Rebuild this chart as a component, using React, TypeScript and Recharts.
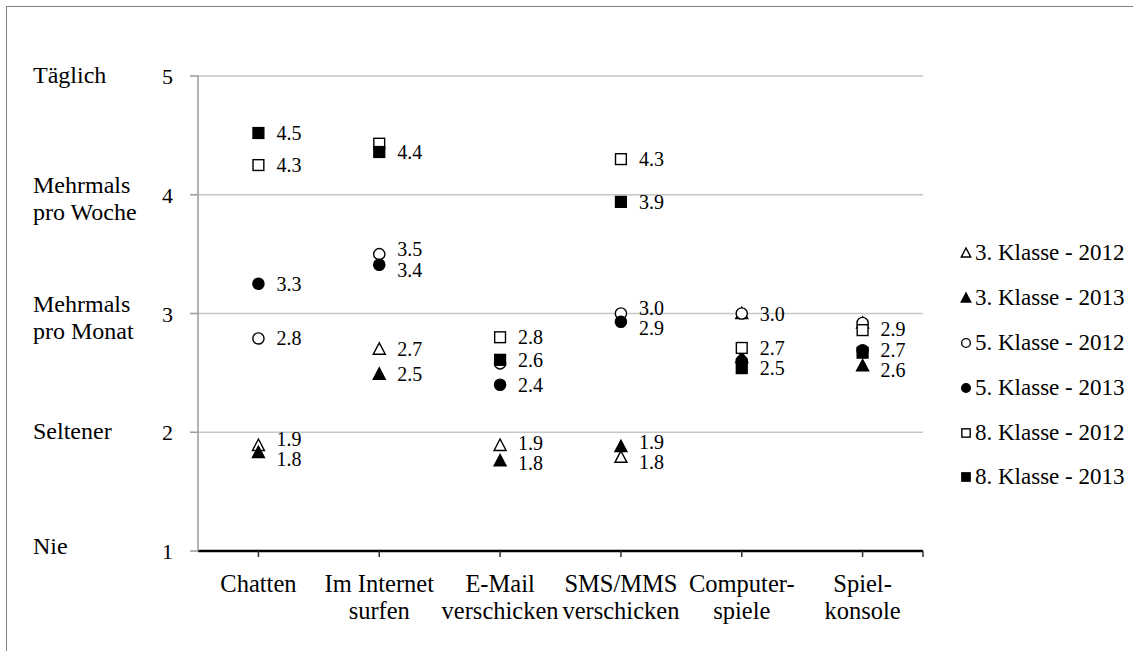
import React from "react";
import { ComposedChart, Scatter, XAxis, YAxis, CartesianGrid, Legend } from "recharts";

const categories = [
  "Chatten",
  "Im Internet\nsurfen",
  "E-Mail\nverschicken",
  "SMS/MMS\nverschicken",
  "Computer-\nspiele",
  "Spiel-\nkonsole",
];
const levelLabels = ["Nie", "Seltener", "Mehrmals\npro Monat", "Mehrmals\npro Woche", "Täglich"];
const yTicks = [1, 2, 3, 4, 5];

const klasse3_2012 = [1.89, 2.7, 1.89, 1.79, 3.0, 2.92];
const klasse3_2013 = [1.83, 2.49, 1.76, 1.88, 2.63, 2.56];
const klasse5_2012 = [2.79, 3.5, 2.58, 3.0, 3.0, 2.92];
const klasse5_2013 = [3.25, 3.41, 2.4, 2.93, 2.6, 2.69];
const klasse8_2012 = [4.25, 4.43, 2.8, 4.3, 2.71, 2.86];
const klasse8_2013 = [4.52, 4.36, 2.61, 3.94, 2.54, 2.67];

const show3_2012 = [true, true, true, true, false, false];
const show3_2013 = [true, true, true, true, false, true];
const show5_2012 = [true, true, false, true, true, false];
const show5_2013 = [true, true, true, true, false, false];
const show8_2012 = [true, false, true, true, true, true];
const show8_2013 = [true, true, true, true, true, true];

type Shape = "triangle" | "circle" | "square";
const seriesDefs: { key: string; name: string; values: number[]; show: boolean[]; shape: Shape; filled: boolean }[] = [
  { key: "k3_12", name: "3. Klasse - 2012", values: klasse3_2012, show: show3_2012, shape: "triangle", filled: false },
  { key: "k3_13", name: "3. Klasse - 2013", values: klasse3_2013, show: show3_2013, shape: "triangle", filled: true },
  { key: "k5_12", name: "5. Klasse - 2012", values: klasse5_2012, show: show5_2012, shape: "circle", filled: false },
  { key: "k5_13", name: "5. Klasse - 2013", values: klasse5_2013, show: show5_2013, shape: "circle", filled: true },
  { key: "k8_12", name: "8. Klasse - 2012", values: klasse8_2012, show: show8_2012, shape: "square", filled: false },
  { key: "k8_13", name: "8. Klasse - 2013", values: klasse8_2013, show: show8_2013, shape: "square", filled: true },
];

const FONT = "'Liberation Serif', 'Times New Roman', serif";
const MIN_GAP = 0.17;

function spread(vals: number[]): number[] {
  type C = { idx: number[]; sum: number; top: number };
  let cs: C[] = vals.map((v, i) => ({ idx: [i], sum: v, top: v }));
  let changed = true;
  while (changed) {
    changed = false;
    for (let i = 0; i < cs.length - 1; i++) {
      const a = cs[i];
      const b = cs[i + 1];
      const aBottom = a.top - (a.idx.length - 1) * MIN_GAP;
      if (aBottom - b.top < MIN_GAP - 1e-9) {
        const idx = [...a.idx, ...b.idx];
        const sum = a.sum + b.sum;
        const n = idx.length;
        const mean = sum / n;
        cs.splice(i, 2, { idx, sum, top: mean + ((n - 1) * MIN_GAP) / 2 });
        changed = true;
        break;
      }
    }
  }
  const out: number[] = new Array(vals.length);
  cs.forEach((c) => c.idx.forEach((id, j) => (out[id] = c.top - j * MIN_GAP)));
  return out;
}

const rows = categories.map((c, i) => {
  const row: any = { x: i + 1 };
  seriesDefs.forEach((s) => {
    row[s.key] = s.values[i];
  });
  const vis = seriesDefs
    .filter((s) => s.show[i])
    .map((s) => ({ key: s.key, v: s.values[i] }))
    .sort((a, b) => b.v - a.v);
  const pos = spread(vis.map((d) => d.v));
  vis.forEach((d, j) => {
    row["lbl_" + d.key] = pos[j];
    row["txt_" + d.key] = d.v.toFixed(1);
  });
  return row;
});

function Marker({ shape, filled, cx, cy, size }: { shape: Shape; filled: boolean; cx: number; cy: number; size: number }) {
  const fill = filled ? "#000" : "#fff";
  const sw = 1.4;
  if (shape === "triangle") {
    const h = size * 0.95;
    const pts = `${cx},${cy - h * 0.55} ${cx - size / 2},${cy + h * 0.45} ${cx + size / 2},${cy + h * 0.45}`;
    return <polygon points={pts} fill={fill} stroke="#000" strokeWidth={sw} strokeLinejoin="miter" />;
  }
  if (shape === "circle") {
    return <circle cx={cx} cy={cy} r={size / 2 - 0.4} fill={fill} stroke="#000" strokeWidth={sw} />;
  }
  const s = size - 1.2;
  return <rect x={cx - s / 2} y={cy - s / 2} width={s} height={s} fill={fill} stroke="#000" strokeWidth={sw} />;
}

const YTick = (props: any) => {
  const { x, y, payload } = props;
  const v = payload.value as number;
  const lines = levelLabels[v - 1].split("\n");
  return (
    <g>
      <text x={x} y={y} dy={8} textAnchor="end" fontFamily={FONT} fontSize={22} fill="#000">
        {v}
      </text>
      {lines.length === 1 ? (
        <text x={33} y={y} dy={v === 1 ? 3 : 7} textAnchor="start" fontFamily={FONT} fontSize={24} fill="#000">
          {lines[0]}
        </text>
      ) : (
        <text x={33} y={y} textAnchor="start" fontFamily={FONT} fontSize={24} fill="#000">
          <tspan x={33} dy={-2}>{lines[0]}</tspan>
          <tspan x={33} dy={27}>{lines[1]}</tspan>
        </text>
      )}
    </g>
  );
};

const XTick = (props: any) => {
  const { x, payload } = props;
  const v = payload.value as number;
  if (!Number.isInteger(v) || v < 1 || v > categories.length) return <g />;
  const lines = categories[v - 1].split("\n");
  return (
    <text x={x} y={551} textAnchor="middle" fontFamily={FONT} fontSize={24.5} fill="#000">
      {lines.map((l, i) => (
        <tspan key={i} x={x} dy={i === 0 ? 41 : 27}>
          {l}
        </tspan>
      ))}
    </text>
  );
};

const LegendContent = () => (
  <div style={{ fontFamily: FONT, fontSize: 23, color: "#000" }}>
    {seriesDefs.map((s) => (
      <div key={s.key} style={{ height: 44.8, display: "flex", alignItems: "center", whiteSpace: "nowrap" }}>
        <svg width={14} height={14} style={{ flex: "none" }}>
          <Marker shape={s.shape} filled={s.filled} cx={7} cy={7} size={9.5} />
        </svg>
        <span style={{ marginLeft: 2 }}>{s.name}</span>
      </div>
    ))}
  </div>
);

export default function App() {
  return (
    <div style={{ position: "absolute", left: 0, top: 0, width: 1133, height: 658, background: "#fff", overflow: "hidden" }}>
      <div
        style={{
          position: "absolute",
          left: 6,
          top: 6,
          width: 1140,
          height: 644,
          borderTop: "1.5px solid #7f7f7f",
          borderLeft: "1.5px solid #7f7f7f",
        }}
      />
      <div style={{ position: "absolute", left: 0, top: 0 }}>
        <ComposedChart width={1133} height={658} data={rows} margin={{ top: 76, right: 210, bottom: 27, left: 98 }}>
          <CartesianGrid horizontal vertical={false} stroke="#c6c6c6" strokeWidth={1.3} />
          <XAxis
            dataKey="x"
            type="number"
            domain={[0.5, 6.5]}
            ticks={[1, 2, 3, 4, 5, 6, 6.5]}
            interval={0}
            height={80}
            stroke="#000"
            strokeWidth={2.5}
            tickLine={{ stroke: "#333", strokeWidth: 1.5 }}
            tickSize={6}
            tick={<XTick />}
            allowDataOverflow
          />
          <YAxis
            type="number"
            domain={[1, 5]}
            ticks={yTicks}
            interval={0}
            width={100}
            stroke="#a0a0a0"
            strokeWidth={1.6}
            tickLine={{ stroke: "#a0a0a0", strokeWidth: 1.6 }}
            tickSize={8}
            tickMargin={17}
            tick={<YTick />}
            allowDataOverflow
          />
          {seriesDefs.map((s) => (
            <Scatter
              key={s.key}
              name={s.name}
              dataKey={s.key}
              isAnimationActive={false}
              shape={(p: any) => <Marker shape={s.shape} filled={s.filled} cx={p.cx} cy={p.cy} size={12} />}
            />
          ))}
          {seriesDefs.map((s) => (
            <Scatter
              key={"lbl_" + s.key}
              dataKey={"lbl_" + s.key}
              legendType="none"
              isAnimationActive={false}
              shape={(p: any) => {
                const t = p.payload ? p.payload["txt_" + s.key] : undefined;
                if (t == null || p.payload["lbl_" + s.key] == null || !isFinite(p.cy)) return <g />;
                return (
                  <text x={p.cx + 18} y={p.cy} dy={7} fontFamily={FONT} fontSize={20} fill="#000">
                    {t}
                  </text>
                );
              }}
            />
          ))}
          <Legend
            layout="vertical"
            align="center"
            verticalAlign="middle"
            content={<LegendContent />}
            wrapperStyle={{ left: 959, top: 231, width: 174, height: 270 }}
          />
        </ComposedChart>
      </div>
    </div>
  );
}
